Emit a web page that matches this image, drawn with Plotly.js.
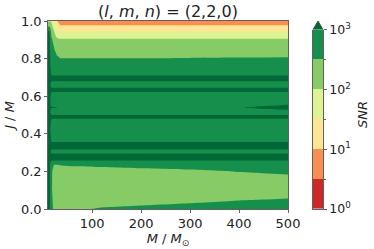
<!DOCTYPE html>
<html>
<head>
<meta charset="utf-8">
<script src="https://cdn.plot.ly/plotly-3.0.1.min.js"></script>
<style>html,body{margin:0;padding:0;background:#fff;}#chart{width:374px;height:249px;}</style>
</head>
<body>
<div id="chart"></div>
<script>
// ---- data (log10 SNR on a mass x spin grid) ----
const massGrid = [10, 13, 17, 22, 28, 35, 60, 116, 200, 300, 400, 450, 500];
const spinGrid = [0.000, 0.100, 0.200, 0.240, 0.258, 0.277, 0.295, 0.305, 0.316, 0.337,
                  0.357, 0.420, 0.480, 0.490, 0.500, 0.515, 0.529, 0.540, 0.551, 0.590,
                  0.622, 0.633, 0.645, 0.662, 0.679, 0.695, 0.710, 0.760, 0.802, 0.850,
                  0.905, 0.925, 0.944, 0.960, 0.977, 1.000];
const logSNR = [
  [3.2, 3.15, 2.6, 2.45, 2.45, 2.45, 2.45, 2.523, 2.566, 2.629, 2.745, 2.8, 2.882],
  [3.2, 3.15, 2.6, 2.25, 2.2, 2.2, 2.2, 2.2, 2.2, 2.2, 2.2, 2.2, 2.2],
  [3.2, 3.15, 2.6, 2.3, 2.3, 2.3, 2.3, 2.3, 2.4, 2.45, 2.509, 2.533, 2.557],
  [3.2, 3.15, 2.65, 2.53, 2.53, 2.55, 2.586, 2.633, 2.635, 2.65, 2.7, 2.7, 2.7],
  [3.2, 3.15, 3.0, 3.0, 3.0, 3.0, 3.0, 3.0, 3.0, 3.0, 3.0, 3.0, 3.0],
  [3.2, 3.2, 3.2, 3.2, 3.2, 3.2, 3.2, 3.2, 3.2, 3.2, 3.2, 3.2, 3.2],
  [3.2, 3.15, 3.0, 3.0, 3.0, 3.0, 3.0, 3.0, 3.0, 3.0, 3.0, 3.0, 3.0],
  [3.2, 3.15, 2.9, 2.9, 2.9, 2.9, 2.9, 2.9, 2.9, 2.9, 2.9, 2.9, 2.9],
  [3.2, 3.15, 3.0, 3.0, 3.0, 3.0, 3.0, 3.0, 3.0, 3.0, 3.0, 3.0, 3.0],
  [3.2, 3.2, 3.2, 3.2, 3.2, 3.2, 3.2, 3.2, 3.2, 3.2, 3.2, 3.2, 3.2],
  [3.2, 3.15, 3.0, 3.0, 3.0, 3.0, 3.0, 3.0, 3.0, 3.0, 3.0, 3.0, 3.0],
  [3.2, 3.15, 2.8, 2.8, 2.8, 2.8, 2.8, 2.8, 2.8, 2.8, 2.8, 2.8, 2.8],
  [3.2, 3.15, 3.0, 3.0, 3.0, 3.0, 3.0, 3.0, 3.0, 3.0, 3.0, 3.0, 3.0],
  [3.2, 3.15, 3.1, 3.1, 3.1, 3.1, 3.1, 3.1, 3.1, 3.1, 3.1, 3.1, 3.1],
  [3.2, 3.15, 3.0, 3.0, 3.0, 3.0, 3.0, 3.0, 3.0, 3.0, 3.0, 3.0, 3.0],
  [3.2, 3.15, 2.85, 2.85, 2.85, 2.85, 2.85, 2.85, 2.85, 2.85, 2.85, 2.85, 2.85],
  [3.2, 3.15, 2.9, 2.9, 2.9, 2.9, 2.9, 2.9, 2.9, 2.9, 2.9, 2.97, 3.02],
  [3.2, 3.15, 3.05, 3.03, 3.01, 2.95, 2.85, 2.85, 2.85, 2.85, 2.99, 3.1, 3.2],
  [3.2, 3.15, 2.9, 2.9, 2.9, 2.9, 2.9, 2.9, 2.9, 2.9, 2.9, 2.97, 3.02],
  [3.2, 3.15, 2.8, 2.8, 2.8, 2.8, 2.8, 2.8, 2.8, 2.8, 2.8, 2.8, 2.8],
  [3.2, 3.15, 3.0, 3.0, 3.0, 3.0, 3.0, 3.0, 3.0, 3.0, 3.0, 3.0, 3.0],
  [3.2, 3.15, 3.15, 3.15, 3.15, 3.15, 3.15, 3.15, 3.15, 3.15, 3.15, 3.15, 3.15],
  [3.2, 3.15, 3.0, 3.0, 3.0, 3.0, 3.0, 3.0, 3.0, 3.0, 3.0, 3.0, 3.0],
  [3.2, 3.15, 2.85, 2.85, 2.85, 2.85, 2.85, 2.85, 2.85, 2.85, 2.85, 2.85, 2.85],
  [3.2, 3.15, 3.0, 3.0, 3.0, 3.0, 3.0, 3.0, 3.0, 3.0, 3.0, 3.0, 3.0],
  [3.2, 3.2, 3.2, 3.2, 3.2, 3.2, 3.2, 3.2, 3.2, 3.2, 3.2, 3.2, 3.2],
  [3.2, 3.15, 3.0, 3.0, 3.0, 3.0, 3.0, 3.0, 3.0, 3.0, 3.0, 3.0, 3.0],
  [3.2, 3.15, 2.85, 2.85, 2.8, 2.75, 2.75, 2.75, 2.75, 2.75, 2.75, 2.75, 2.75],
  [3.2, 3.15, 2.8, 2.75, 2.6, 2.5, 2.5, 2.5, 2.5, 2.51, 2.52, 2.525, 2.53],
  [3.2, 3.15, 2.7, 2.55, 2.3, 2.25, 2.25, 2.25, 2.25, 2.25, 2.25, 2.25, 2.25],
  [3.2, 3.15, 2.55, 2.35, 2.05, 2.0, 2.0, 2.0, 2.0, 2.0, 2.0, 2.0, 2.0],
  [3.2, 3.1, 2.45, 2.2, 1.8, 1.75, 1.75, 1.75, 1.75, 1.75, 1.75, 1.75, 1.75],
  [3.1, 3.0, 2.35, 2.05, 1.6, 1.5, 1.5, 1.5, 1.5, 1.5, 1.5, 1.5, 1.5],
  [2.8, 2.7, 2.25, 1.9, 1.4, 1.25, 1.25, 1.25, 1.25, 1.25, 1.25, 1.25, 1.25],
  [2.35, 2.4, 2.1, 1.75, 1.2, 1.0, 1.0, 1.0, 1.0, 1.0, 1.0, 1.0, 1.0],
  [1.9, 2.0, 1.95, 1.65, 1.05, 0.7, 0.7, 0.7, 0.7, 0.7, 0.7, 0.7, 0.7]
];
// contour levels (log10 SNR) and colorbar labels
const levels = [0, 0.5, 1, 1.5, 2, 2.5, 3];
const bandColors = ['#ce2827', '#f98e52', '#fee594', '#dff294', '#86cb66', '#168f4c', '#006837'];
const xTicks = [100, 200, 300, 400, 500];
const yTicks = [0, 0.2, 0.4, 0.6, 0.8, 1.0];
const cbMajor = [0, 1, 2, 3];
const cbMajorText = ['10<sup>0</sup>', '10<sup>1</sup>', '10<sup>2</sup>', '10<sup>3</sup>'];
const cbMinor = [0.5, 1.5, 2.5];

// ---- build ----
const step = levels[1] - levels[0];
const topVal = levels[levels.length - 1] + step;      // extra (over) band
const nb = bandColors.length;
const cscale = [];
bandColors.forEach((c, k) => { cscale.push([k / nb, c]); cscale.push([(k + 1) / nb, c]); });

const cbMid = levels.slice(0, -1).map((v, i) => (v + levels[i + 1]) / 2);

const FONT = 'DejaVu Sans, Arial, sans-serif';
const INK = '#222';
const SPINE = '#3a3a3a';
const TS = 13;

const mainX = [0, 0.7595];
const cbX = [0.8386, 0.8703];
const cbY = [0, 0.9544];

const traces = [
  {
    type: 'contour', x: massGrid, y: spinGrid, z: logSNR,
    autocontour: false,
    contours: {start: levels[1], end: topVal, size: step, coloring: 'fill', showlines: false},
    line: {width: 0, smoothing: 0},
    colorscale: cscale, showscale: false, hoverinfo: 'skip',
    xaxis: 'x', yaxis: 'y'
  },
  {
    type: 'heatmap', x: [0], y: cbMid, z: cbMid.map(v => [v]),
    zmin: 0, zmax: topVal, colorscale: cscale, showscale: false, hoverinfo: 'skip',
    xaxis: 'x2', yaxis: 'y2'
  }
];

const xm = (cbX[0] + cbX[1]) / 2;
const layout = {
  width: 374, height: 249,
  margin: {l: 48, r: 10, t: 21, b: 40, pad: 0},
  paper_bgcolor: '#fff', plot_bgcolor: '#fff',
  font: {family: FONT, size: TS, color: INK},
  showlegend: false,
  title: {
    text: '(<i>l</i>, <i>m</i>, <i>n</i>) = (2,2,0)',
    font: {family: FONT, size: 16, color: INK},
    xref: 'paper', x: 0.3797, xanchor: 'center',
    yref: 'container', y: 0.955, yanchor: 'middle'
  },
  xaxis: {
    domain: mainX, range: [massGrid[0], massGrid[massGrid.length - 1]],
    tickvals: xTicks, ticks: 'outside', ticklen: 3, tickwidth: 0.8, tickcolor: SPINE,
    showline: true, mirror: true, linecolor: SPINE, linewidth: 0.8,
    showgrid: false, zeroline: false, anchor: 'y',
    tickfont: {family: FONT, size: TS, color: INK},
    title: {text: '<i>M</i> / <i>M</i><sub>⊙</sub>', font: {family: FONT, size: TS, color: INK}, standoff: 2}
  },
  yaxis: {
    domain: [0, 1], range: [0, 1],
    tickvals: yTicks, tickformat: '.1f',
    ticks: 'outside', ticklen: 3, tickwidth: 0.8, tickcolor: SPINE,
    showline: true, mirror: true, linecolor: SPINE, linewidth: 0.8,
    showgrid: false, zeroline: false, anchor: 'x',
    tickfont: {family: FONT, size: TS, color: INK},
    title: {text: '<i>J</i> / <i>M</i>', font: {family: FONT, size: TS, color: INK}, standoff: 3}
  },
  xaxis2: {
    domain: cbX, range: [-0.5, 0.5], anchor: 'y2',
    showticklabels: false, ticks: '', showgrid: false, zeroline: false,
    showline: true, mirror: false, linecolor: SPINE, linewidth: 0.8
  },
  yaxis2: {
    domain: cbY, range: [levels[0], levels[levels.length - 1]], anchor: 'x2', side: 'right',
    tickvals: cbMajor, ticktext: cbMajorText,
    ticks: 'outside', ticklen: 3, tickwidth: 0.8, tickcolor: SPINE,
    minor: {tickvals: cbMinor, ticks: 'outside', ticklen: 2, tickwidth: 0.8, tickcolor: SPINE},
    showline: true, mirror: true, linecolor: SPINE, linewidth: 0.8,
    showgrid: false, zeroline: false,
    tickfont: {family: FONT, size: 12.5, color: INK}
  },
  shapes: [
    {type: 'path', xref: 'paper', yref: 'paper',
     path: `M ${cbX[0]},${cbY[1]} L ${cbX[1]},${cbY[1]} L ${xm},1 Z`,
     fillcolor: bandColors[nb - 1], line: {width: 0}},
    {type: 'path', xref: 'paper', yref: 'paper',
     path: `M ${cbX[0]},${cbY[1]} L ${xm},1 L ${cbX[1]},${cbY[1]}`,
     line: {color: SPINE, width: 0.8}}
  ],
  annotations: [
    {text: '<i>SNR</i>', xref: 'paper', yref: 'paper', x: 0.9937, y: 0.5,
     xanchor: 'center', yanchor: 'middle', textangle: -90, showarrow: false,
     font: {family: FONT, size: TS, color: INK}}
  ]
};

Plotly.newPlot('chart', traces, layout, {staticPlot: true, displayModeBar: false});
</script>
</body>
</html>
